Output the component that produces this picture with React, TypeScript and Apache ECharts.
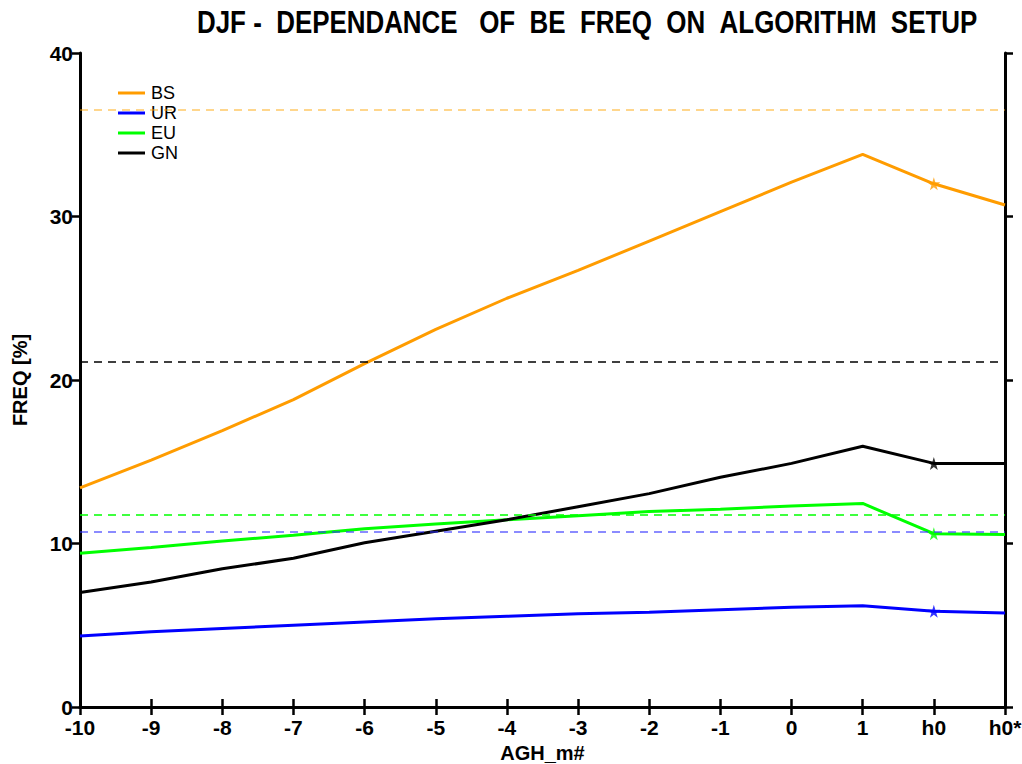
import React, { useEffect, useRef } from "react";
import * as echarts from "echarts";

const categories = ["-10", "-9", "-8", "-7", "-6", "-5", "-4", "-3", "-2", "-1", "0", "1", "h0", "h0*"];
const bsValues = [13.4, 15.1, 16.9, 18.8, 21.0, 23.1, 25.0, 26.7, 28.5, 30.3, 32.1, 33.8, 32.0, 30.7];
const urValues = [4.35, 4.6, 4.8, 5.0, 5.2, 5.4, 5.55, 5.7, 5.8, 5.95, 6.1, 6.2, 5.85, 5.75];
const euValues = [9.4, 9.75, 10.15, 10.5, 10.9, 11.2, 11.45, 11.7, 11.95, 12.1, 12.3, 12.45, 10.6, 10.55];
const gnValues = [7.0, 7.65, 8.45, 9.1, 10.05, 10.75, 11.45, 12.25, 13.05, 14.05, 14.9, 15.95, 14.9, 14.9];
const refLevels = { BS: 36.5, UR: 10.7, EU: 11.75, GN: 21.1 };
const starCategory = "h0";
const yTicks = [0, 10, 20, 30, 40];

const STAR = "path://M50,0 L61,35 L98,35 L68,57 L79,91 L50,70 L21,91 L32,57 L2,35 L39,35 Z";
const FONT = "'Liberation Sans', Arial, Helvetica, sans-serif";

export default function App() {
  const ref = useRef<HTMLDivElement>(null);
  useEffect(() => {
    if (!ref.current) return;
    const chart = echarts.init(ref.current, null, { renderer: "svg" });
    const series: any[] = [];
    const defs = [
      { name: "BS", color: "#ff9c00", data: bsValues, ref: refLevels.BS, refColor: "rgba(255,165,0,0.6)" },
      { name: "UR", color: "#0000ff", data: urValues, ref: refLevels.UR, refColor: "rgba(50,50,255,0.75)" },
      { name: "EU", color: "#00ff00", data: euValues, ref: refLevels.EU, refColor: "#00ff00" },
      { name: "GN", color: "#000000", data: gnValues, ref: refLevels.GN, refColor: "#000000" },
    ];
    defs.forEach((d) => {
      series.push({
        name: d.name,
        type: "line",
        data: d.data,
        symbol: "none",
        lineStyle: { color: d.color, width: 3 },
        itemStyle: { color: d.color },
        markLine: {
          silent: true,
          symbol: "none",
          label: { show: false },
          lineStyle: { color: d.refColor, type: [8, 6], width: 1.5, opacity: 1 },
          emphasis: { disabled: true },
          data: [{ yAxis: d.ref }],
        },
        z: 3,
      });
      const idx = categories.indexOf(starCategory);
      series.push({
        name: d.name + "_star",
        type: "scatter",
        data: [[starCategory, d.data[idx]]],
        symbol: STAR,
        symbolSize: 13,
        itemStyle: { color: d.color },
        z: 4,
      });
    });
    chart.setOption({
      animation: false,
      backgroundColor: "#ffffff",
      grid: { left: 80, right: 17, top: 53, bottom: 57, containLabel: false, outerBoundsMode: "none" },
      legend: {
        data: ["BS", "UR", "EU", "GN"],
        orient: "vertical",
        left: 113,
        top: 79,
        icon: "rect",
        itemWidth: 27,
        itemHeight: 3,
        itemGap: 2,
        textStyle: { fontFamily: FONT, fontSize: 18, color: "#000", lineHeight: 18, padding: [0, 0, 0, 1] },
      },
      graphic: [
        {
          type: "text",
          x: 197,
          y: 6,
          style: {
            text: "DJF -  DEPENDANCE   OF  BE  FREQ  ON  ALGORITHM  SETUP".replace(/ /g, "\u00a0"),
            font: `bold 32px ${FONT}`,
            fill: "#000",
          },
          scaleX: 0.81,
        },
      ],
      xAxis: [
        {
          type: "category",
          data: categories,
          boundaryGap: false,
          position: "bottom",
          name: "AGH_m#",
          nameLocation: "middle",
          nameGap: 35,
          nameTextStyle: { fontFamily: FONT, fontWeight: "bold", fontSize: 20, color: "#000" },
          axisLine: { lineStyle: { color: "#000", width: 3 } },
          axisTick: { show: true, length: 8, lineStyle: { color: "#000", width: 2.5 }, alignWithLabel: true },
          axisLabel: { fontFamily: FONT, fontWeight: "bold", fontSize: 21, color: "#000", margin: 10, interval: 0 },
          splitLine: { show: false },
        },
        {
          type: "category",
          data: categories,
          boundaryGap: false,
          position: "top",
          axisLine: { lineStyle: { color: "#000", width: 3 } },
          axisTick: { show: true, length: 8, lineStyle: { color: "#000", width: 2.5 }, interval: 0 },
          axisLabel: { show: false },
          splitLine: { show: false },
        },
      ],
      yAxis: [
        {
          type: "value",
          min: yTicks[0],
          max: yTicks[yTicks.length - 1],
          interval: 10,
          name: "FREQ [%]",
          nameLocation: "middle",
          nameGap: 50,
          nameTextStyle: { fontFamily: FONT, fontWeight: "bold", fontSize: 20, color: "#000" },
          axisLine: { show: true, lineStyle: { color: "#000", width: 3 } },
          axisTick: { show: true, length: 8, lineStyle: { color: "#000", width: 2.5 } },
          axisLabel: { fontFamily: FONT, fontWeight: "bold", fontSize: 21, color: "#000", margin: 7 },
          splitLine: { show: false },
        },
        {
          type: "value",
          position: "right",
          min: yTicks[0],
          max: yTicks[yTicks.length - 1],
          interval: 10,
          axisLine: { show: true, lineStyle: { color: "#000", width: 3 } },
          axisTick: { show: true, length: 8, lineStyle: { color: "#000", width: 2.5 } },
          axisLabel: { show: false },
          splitLine: { show: false },
        },
      ],
      series,
    });
    return () => chart.dispose();
  }, []);
  return <div ref={ref} style={{ width: 1022, height: 764, position: "absolute", left: 0, top: 0 }} />;
}
